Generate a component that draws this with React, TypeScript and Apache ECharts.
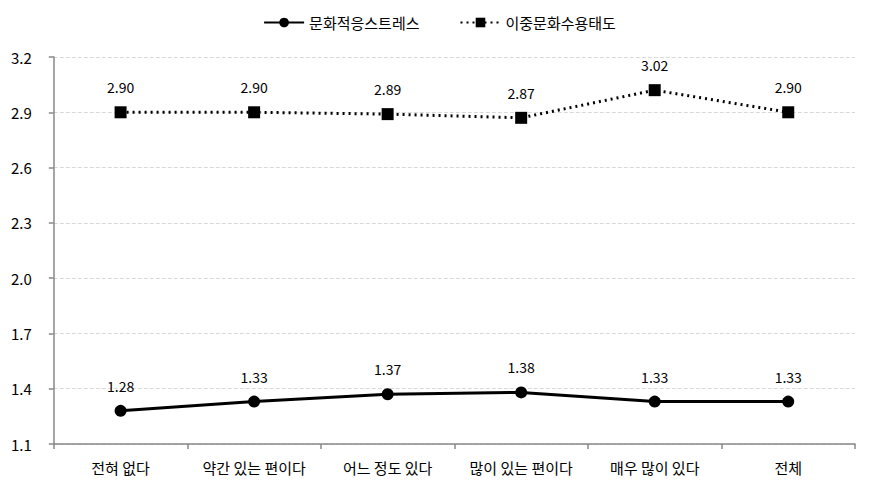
import React, { useEffect, useRef } from "react";
import * as echarts from "echarts";

const categories = ["전혀 없다", "약간 있는 편이다", "어느 정도 있다", "많이 있는 편이다", "매우 많이 있다", "전체"];
const stressName = "문화적응스트레스";
const stressValues = [1.28, 1.33, 1.37, 1.38, 1.33, 1.33];
const attitudeName = "이중문화수용태도";
const attitudeValues = [2.9, 2.9, 2.89, 2.87, 3.02, 2.9];

const FONT = "'Noto Sans CJK KR', 'Noto Sans', sans-serif";

export default function App() {
  const ref = useRef<HTMLDivElement>(null);
  useEffect(() => {
    const chart = echarts.init(ref.current!, null, { renderer: "svg" });
    chart.setOption({
      animation: false,
      textStyle: { fontFamily: FONT },
      legend: {
        top: 2,
        left: "center",
        itemWidth: 40,
        itemHeight: 12,
        itemGap: 40,
        textStyle: { fontSize: 15, color: "#000", fontFamily: FONT },
        data: [stressName, attitudeName],
      },
      grid: { left: 45, right: 16, top: 49, bottom: 49 },
      xAxis: {
        type: "category",
        data: categories,
        boundaryGap: true,
        axisLine: { lineStyle: { color: "#888", width: 1.5 } },
        axisTick: { show: true, length: 5, lineStyle: { color: "#888", width: 1.5 } },
        axisLabel: { color: "#000", fontSize: 15, margin: 16, interval: 0, fontFamily: FONT },
      },
      yAxis: {
        type: "value",
        min: 1.1,
        max: 3.2,
        interval: 0.3,
        axisLine: { show: true, lineStyle: { color: "#888", width: 1.5 } },
        axisTick: { show: true, length: 5, lineStyle: { color: "#888", width: 1.5 } },
        axisLabel: {
          color: "#000",
          fontSize: 15,
          margin: 22,
          fontFamily: FONT,
          formatter: (v: number) => v.toFixed(1),
        },
        splitLine: { lineStyle: { color: "#d9d9d9", type: "dashed" } },
      },
      series: [
        {
          name: stressName,
          type: "line",
          data: stressValues,
          symbol: "circle",
          symbolSize: 12,
          lineStyle: { color: "#000", width: 3, type: "solid" },
          itemStyle: { color: "#000" },
          label: {
            show: true,
            position: "top",
            distance: 12,
            color: "#000",
            fontSize: 14,
            fontFamily: FONT,
            formatter: (p: any) => p.value.toFixed(2),
          },
        },
        {
          name: attitudeName,
          type: "line",
          data: attitudeValues,
          symbol: "rect",
          symbolSize: 12,
          lineStyle: { color: "#000", width: 3, type: [2, 4] },
          itemStyle: { color: "#000" },
          label: {
            show: true,
            position: "top",
            distance: 12,
            color: "#000",
            fontSize: 14,
            fontFamily: FONT,
            formatter: (p: any) => p.value.toFixed(2),
          },
        },
      ],
    });
    return () => chart.dispose();
  }, []);
  return <div ref={ref} style={{ width: 863, height: 485 }} />;
}
